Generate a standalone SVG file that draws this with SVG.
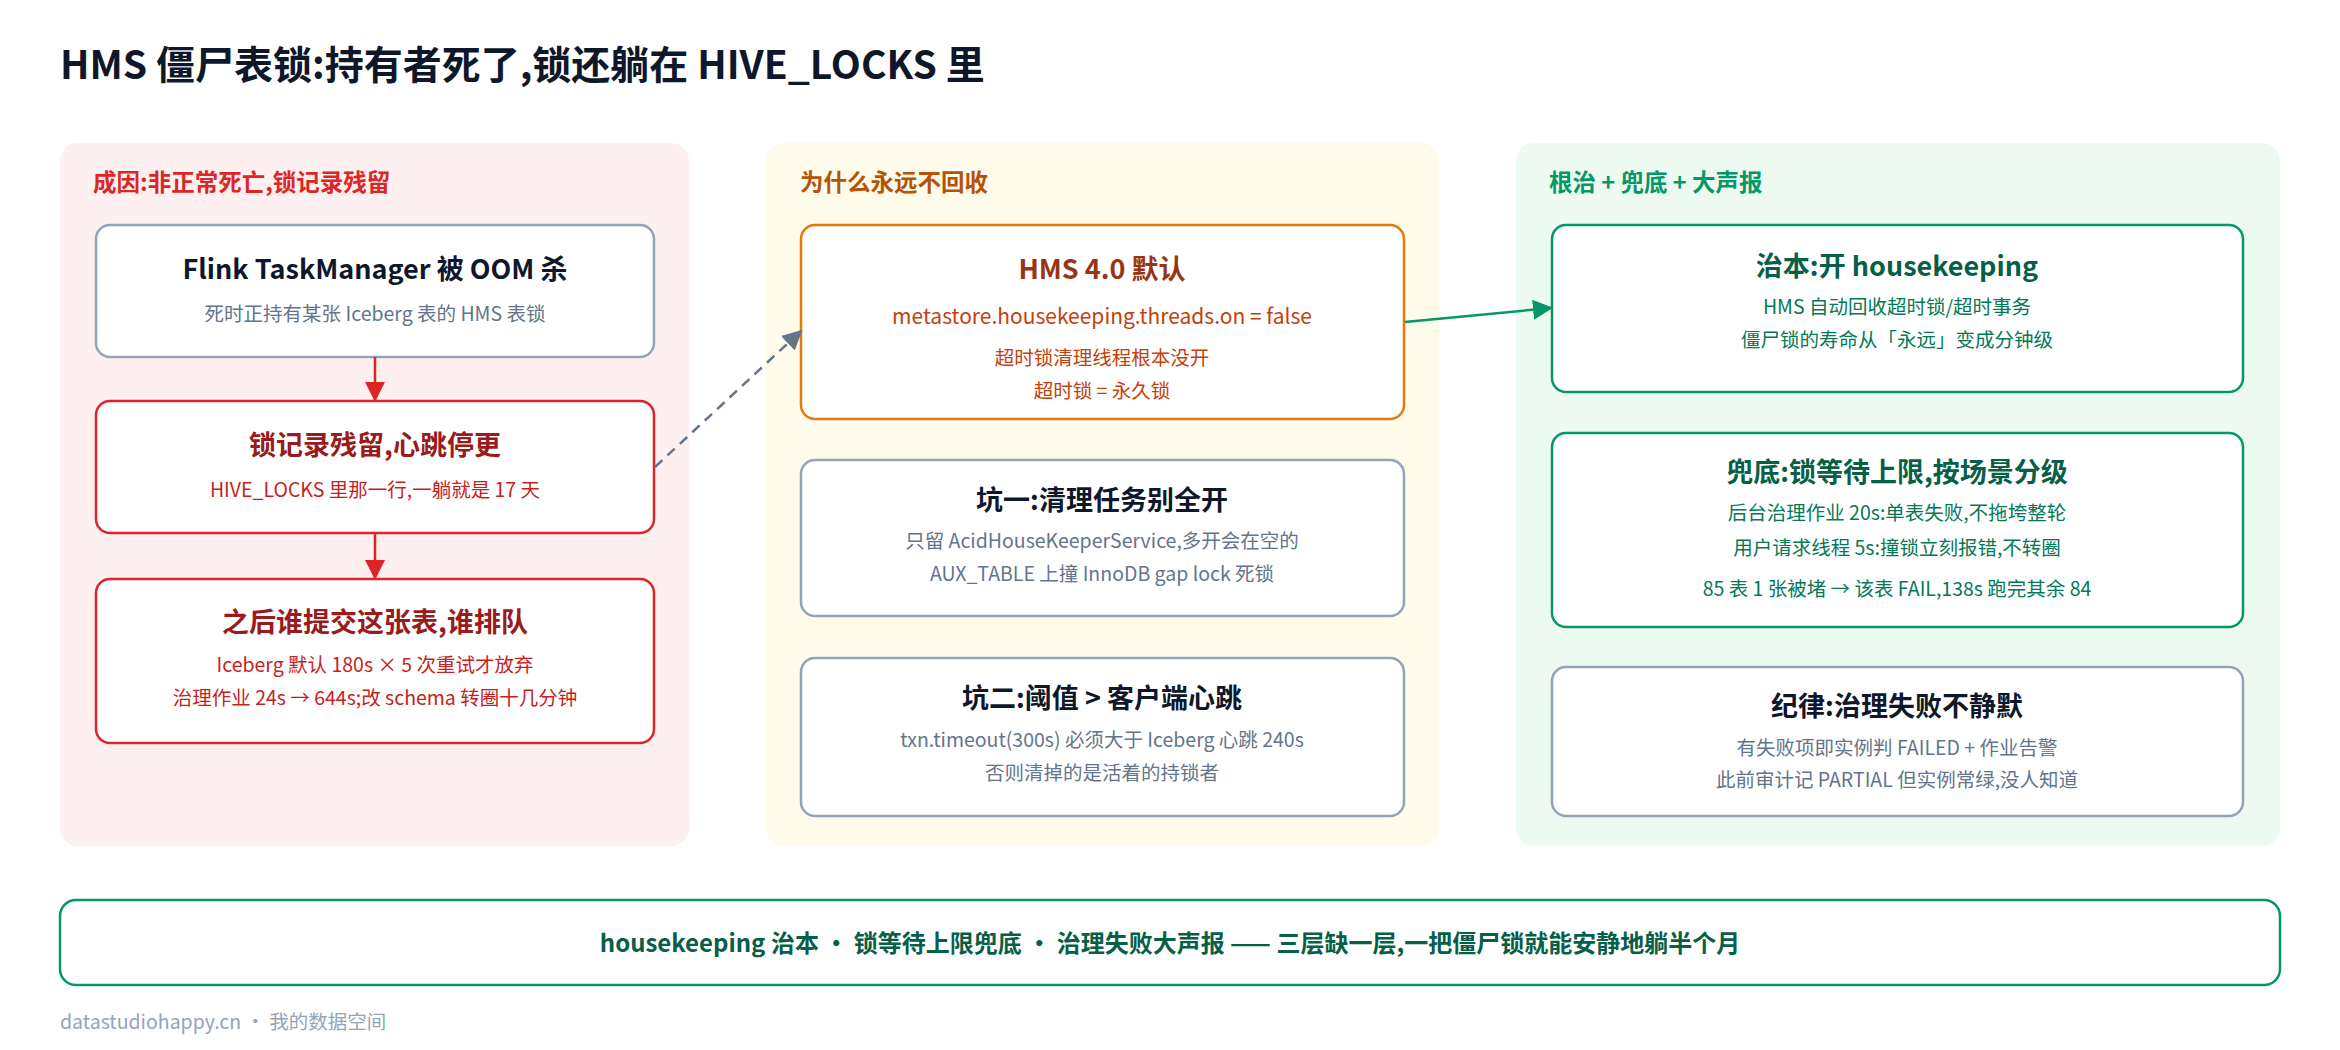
<svg xmlns="http://www.w3.org/2000/svg" width="2340" height="1050" viewBox="0 0 2340 1050">
<style>
text{font-family:"Noto Sans CJK SC","Noto Sans",sans-serif;text-anchor:middle}
.t{font-size:27px;font-weight:700}
.s{font-size:19.5px}
.pt{font-size:23.5px;font-weight:700;text-anchor:start}
.box{fill:#fff;stroke-width:2.5}
.gray{stroke:#94a3b8}.red{stroke:#dc2626}.org{stroke:#e07b0c}.grn{stroke:#059669}
</style>
<defs>
<marker id="ag" viewBox="0 0 10 10" refX="9" refY="5" markerWidth="20" markerHeight="20" orient="auto" markerUnits="userSpaceOnUse"><path d="M0,0L10,5L0,10z" fill="#64748b"/></marker>
<marker id="agr" viewBox="0 0 10 10" refX="9" refY="5" markerWidth="20" markerHeight="20" orient="auto" markerUnits="userSpaceOnUse"><path d="M0,0L10,5L0,10z" fill="#059669"/></marker>
<marker id="ard" viewBox="0 0 10 10" refX="9" refY="5" markerWidth="20" markerHeight="20" orient="auto" markerUnits="userSpaceOnUse"><path d="M0,0L10,5L0,10z" fill="#dc2626"/></marker>
</defs>
<rect width="2340" height="1050" fill="#fff"/>
<text x="60" y="79" style="font-size:39px;font-weight:700;text-anchor:start;fill:#0f172a">HMS 僵尸表锁:持有者死了,锁还躺在 HIVE_LOCKS 里</text>

<g id="panel-left">
<rect x="60" y="143" width="629" height="703" rx="18" fill="#fef0f0"/>
<text x="93" y="191" class="pt" fill="#dc2626">成因:非正常死亡,锁记录残留</text>
</g>
<g id="panel-mid">
<rect x="766" y="143" width="673" height="703" rx="18" fill="#fefbea"/>
<text x="800" y="191" class="pt" fill="#b45309">为什么永远不回收</text>
</g>
<g id="panel-right">
<rect x="1516" y="143" width="764" height="703" rx="18" fill="#edfaf1"/>
<text x="1549" y="191" class="pt" fill="#059669">根治 + 兜底 + 大声报</text>
</g>

<g id="n-oom">
<rect class="box gray" x="96" y="225" width="558" height="132" rx="14"/>
<text x="375" y="279" class="t" fill="#0f172a">Flink TaskManager 被 OOM 杀</text>
<text x="375" y="321" class="s" fill="#64748b">死时正持有某张 Iceberg 表的 HMS 表锁</text>
</g>
<g id="n-residue">
<rect class="box red" x="96" y="401" width="558" height="132" rx="14"/>
<text x="375" y="455" class="t" fill="#991b1b">锁记录残留,心跳停更</text>
<text x="375" y="497" class="s" fill="#c81e1e">HIVE_LOCKS 里那一行,一躺就是 17 天</text>
</g>
<g id="n-queue">
<rect class="box red" x="96" y="579" width="558" height="164" rx="14"/>
<text x="375" y="632" class="t" fill="#991b1b">之后谁提交这张表,谁排队</text>
<text x="375" y="672" class="s" fill="#c81e1e">Iceberg 默认 180s × 5 次重试才放弃</text>
<text x="375" y="705" class="s" fill="#c81e1e">治理作业 24s → 644s;改 schema 转圈十几分钟</text>
</g>

<g id="n-hms4">
<rect class="box org" x="801" y="225" width="603" height="194" rx="14"/>
<text x="1102" y="279" class="t" fill="#9a3412">HMS 4.0 默认</text>
<text x="1102" y="324" style="font-size:21px" fill="#c2410c">metastore.housekeeping.threads.on = false</text>
<text x="1102" y="365" class="s" fill="#c2410c">超时锁清理线程根本没开</text>
<text x="1102" y="398" class="s" fill="#c2410c">超时锁 = 永久锁</text>
</g>
<g id="n-pit1">
<rect class="box gray" x="801" y="460" width="603" height="156" rx="14"/>
<text x="1102" y="510" class="t" fill="#0f172a">坑一:清理任务别全开</text>
<text x="1102" y="548" class="s" fill="#64748b">只留 AcidHouseKeeperService,多开会在空的</text>
<text x="1102" y="581" class="s" fill="#64748b">AUX_TABLE 上撞 InnoDB gap lock 死锁</text>
</g>
<g id="n-pit2">
<rect class="box gray" x="801" y="658" width="603" height="158" rx="14"/>
<text x="1102" y="708" class="t" fill="#0f172a">坑二:阈值 &gt; 客户端心跳</text>
<text x="1102" y="747" class="s" fill="#64748b">txn.timeout(300s) 必须大于 Iceberg 心跳 240s</text>
<text x="1102" y="780" class="s" fill="#64748b">否则清掉的是活着的持锁者</text>
</g>

<g id="n-root">
<rect class="box grn" x="1552" y="225" width="691" height="167" rx="14"/>
<text x="1897" y="276" class="t" fill="#065f46">治本:开 housekeeping</text>
<text x="1897" y="314" class="s" fill="#047857">HMS 自动回收超时锁/超时事务</text>
<text x="1897" y="347" class="s" fill="#047857">僵尸锁的寿命从「永远」变成分钟级</text>
</g>
<g id="n-fallback">
<rect class="box grn" x="1552" y="433" width="691" height="194" rx="14"/>
<text x="1897" y="482" class="t" fill="#065f46">兜底:锁等待上限,按场景分级</text>
<text x="1897" y="520" class="s" fill="#047857">后台治理作业 20s:单表失败,不拖垮整轮</text>
<text x="1897" y="555" class="s" fill="#047857">用户请求线程 5s:撞锁立刻报错,不转圈</text>
<text x="1897" y="596" class="s" fill="#047857">85 表 1 张被堵 → 该表 FAIL,138s 跑完其余 84</text>
</g>
<g id="n-discipline">
<rect class="box gray" x="1552" y="667" width="691" height="149" rx="14"/>
<text x="1897" y="716" class="t" fill="#0f172a">纪律:治理失败不静默</text>
<text x="1897" y="755" class="s" fill="#64748b">有失败项即实例判 FAILED + 作业告警</text>
<text x="1897" y="787" class="s" fill="#64748b">此前审计记 PARTIAL 但实例常绿,没人知道</text>
</g>

<g id="connectors" fill="none">
<line x1="375" y1="357" x2="375" y2="400" stroke="#dc2626" stroke-width="2.5" marker-end="url(#ard)"/>
<line x1="375" y1="533" x2="375" y2="578" stroke="#dc2626" stroke-width="2.5" marker-end="url(#ard)"/>
<line x1="655" y1="467" x2="801" y2="331" stroke="#64748b" stroke-width="2.5" stroke-dasharray="10,7" marker-end="url(#ag)"/>
<line x1="1405" y1="322" x2="1551" y2="308" stroke="#059669" stroke-width="2.5" marker-end="url(#agr)"/>
</g>

<g id="banner">
<rect x="60" y="900" width="2220" height="85" rx="16" fill="#fff" stroke="#059669" stroke-width="2.5"/>
<text x="1170" y="952" style="font-size:24px;font-weight:700" fill="#065f46">housekeeping 治本 · 锁等待上限兜底 · 治理失败大声报 —— 三层缺一层,一把僵尸锁就能安静地躺半个月</text>
</g>
<text x="60" y="1029" style="font-size:19.5px;text-anchor:start" fill="#94a3b8">datastudiohappy.cn · 我的数据空间</text>
</svg>
